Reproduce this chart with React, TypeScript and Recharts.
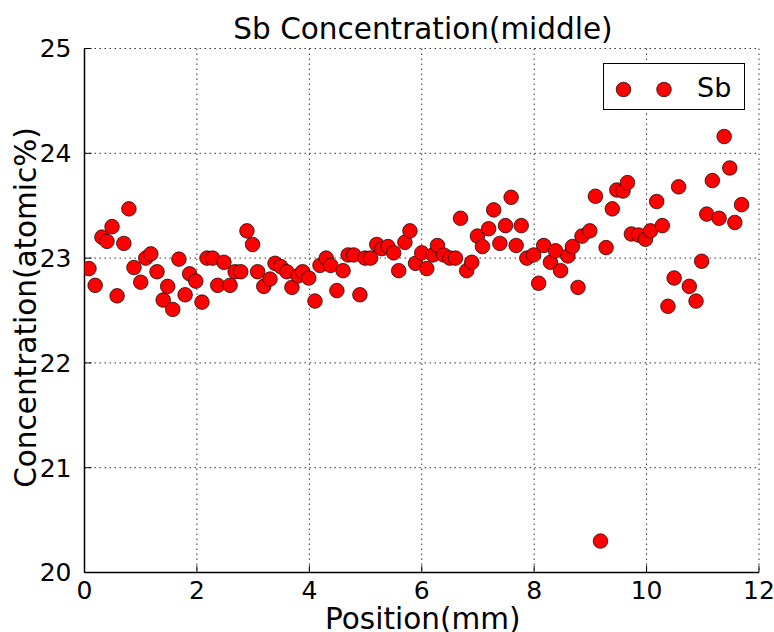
import React from 'react';
import { ScatterChart, Scatter, XAxis, YAxis, CartesianGrid, Legend } from 'recharts';

// positions (mm) and Sb concentration (atomic%)
const positions = [
  0.08, 0.19, 0.31, 0.4, 0.49, 0.58, 0.7, 0.79, 0.88, 1.0,
  1.09, 1.18, 1.29, 1.4, 1.48, 1.57, 1.68, 1.79, 1.87, 1.98,
  2.09, 2.18, 2.28, 2.37, 2.48, 2.59, 2.68, 2.78, 2.89, 2.99,
  3.08, 3.19, 3.3, 3.39, 3.49, 3.6, 3.69, 3.8, 3.88, 3.99,
  4.1, 4.19, 4.3, 4.38, 4.49, 4.6, 4.69, 4.79, 4.9, 4.99,
  5.09, 5.2, 5.29, 5.4, 5.5, 5.59, 5.7, 5.79, 5.89, 6.0,
  6.09, 6.2, 6.28, 6.39, 6.5, 6.6, 6.69, 6.8, 6.89, 6.99,
  7.08, 7.19, 7.28, 7.39, 7.49, 7.59, 7.68, 7.77, 7.87, 7.99,
  8.08, 8.17, 8.29, 8.38, 8.47, 8.6, 8.68, 8.78, 8.85, 8.99,
  9.09, 9.18, 9.28, 9.39, 9.47, 9.58, 9.66, 9.73, 9.86, 9.98,
  10.07, 10.18, 10.28, 10.38, 10.49, 10.57, 10.76, 10.88, 10.98, 11.07,
  11.17, 11.29, 11.38, 11.48, 11.57, 11.69,
];

const concentrations = [
  22.9, 22.74, 23.2, 23.16, 23.3, 22.64, 23.14, 23.47, 22.91, 22.77,
  23.0, 23.04, 22.87, 22.6, 22.73, 22.51, 22.99, 22.65, 22.85, 22.78,
  22.58, 23.0, 23.0, 22.74, 22.96, 22.74, 22.87, 22.87, 23.26, 23.13,
  22.87, 22.73, 22.8, 22.95, 22.92, 22.87, 22.72, 22.83, 22.87, 22.81,
  22.59, 22.93, 23.0, 22.93, 22.69, 22.88, 23.03, 23.03, 22.65, 23.0,
  23.0, 23.13, 23.09, 23.11, 23.05, 22.88, 23.15, 23.26, 22.95, 23.05,
  22.9, 23.03, 23.12, 23.03, 23.0, 23.0, 23.38, 22.88, 22.96, 23.21,
  23.11, 23.28, 23.46, 23.14, 23.31, 23.58, 23.12, 23.31, 23.0, 23.03,
  22.76, 23.12, 22.96, 23.07, 22.88, 23.02, 23.11, 22.72, 23.21, 23.26,
  23.59, 20.3, 23.1, 23.47, 23.65, 23.64, 23.72, 23.23, 23.22, 23.18,
  23.26, 23.54, 23.31, 22.54, 22.81, 23.68, 22.73, 22.59, 22.97, 23.42,
  23.74, 23.38, 24.16, 23.86, 23.34, 23.51,
];

const xTicks = [0, 2, 4, 6, 8, 10, 12];
const yTicks = [20, 21, 22, 23, 24, 25];
const seriesName = 'Sb';
const chartTitle = 'Sb Concentration(middle)';
const xLabel = 'Position(mm)';
const yLabel = 'Concentration(atomic%)';

const data = positions.map((x, i) => ({ x, y: concentrations[i] }));

const FONT = '"DejaVu Sans", sans-serif';
const tickStyle = { fill: '#000', fontSize: 25, fontFamily: FONT };

const Marker = (props: any) => (
  <circle cx={props.cx} cy={props.cy} r={7.3} fill="#ff0000" stroke="#000" strokeWidth={0.7} />
);

const LegendBox = () => (
  <div style={{ boxSizing: 'border-box', width: 142, height: 47, border: '1px solid #000', background: '#fff' }}>
    <svg width={140} height={45} style={{ display: 'block' }}>
      <circle cx={19.5} cy={25.5} r={7.3} fill="#ff0000" stroke="#000" strokeWidth={0.7} />
      <circle cx={60} cy={25.5} r={7.3} fill="#ff0000" stroke="#000" strokeWidth={0.7} />
      <text x={93} y={33} fontSize={27} fontFamily={FONT} fill="#000">{seriesName}</text>
    </svg>
  </div>
);

const YTitle = (p: any) => {
  const vb = p.viewBox;
  const cx = vb.x + 1;
  const cy = vb.y + vb.height / 2 - 3;
  return (
    <text x={cx} y={cy} dy="0.36em" textAnchor="middle" fontSize={29.5} fontFamily={FONT} fill="#000"
      transform={`rotate(-90 ${cx} ${cy})`}>{yLabel}</text>
  );
};

const XTitle = (p: any) => {
  const vb = p.viewBox;
  return (
    <text x={vb.x + vb.width / 2 + 1} y={vb.y + vb.height + 26} textAnchor="middle" fontSize={29.5} fontFamily={FONT} fill="#000">
      {xLabel}
    </text>
  );
};

export default function App() {
  return (
    <div style={{ position: 'relative', width: 774, height: 632, background: '#fff', overflow: 'hidden' }}>
      <style>{'body{margin:0}'}</style>
      <div style={{ position: 'absolute', top: 15, left: 0, width: 846, textAlign: 'center', fontSize: 29.5, lineHeight: '29.5px', fontFamily: FONT, color: '#000', zIndex: 2 }}>
        {chartTitle}
      </div>
      <ScatterChart width={774} height={632} margin={{ top: 48.5, right: 15, bottom: 29.5, left: 24.5 }}>
        <CartesianGrid stroke="#000" strokeDasharray="1.5 3.5" strokeWidth={0.8} />
        <XAxis type="number" dataKey="x" domain={[0, 12]} ticks={xTicks} interval={0} allowDataOverflow
          height={30} tickSize={-7} tickMargin={16} tick={tickStyle}
          axisLine={{ stroke: '#000', strokeWidth: 1.5 }} tickLine={{ stroke: '#000' }}
          label={{ content: <XTitle /> }} />
        <XAxis xAxisId="top" orientation="top" type="number" domain={[0, 12]} ticks={xTicks} interval={0} allowDataOverflow
          height={0} tickSize={-7} tickFormatter={() => ''}
          axisLine={{ stroke: '#000', strokeWidth: 1.5 }} tickLine={{ stroke: '#000' }} />
        <YAxis type="number" dataKey="y" domain={[20, 25]} ticks={yTicks} interval={0} allowDataOverflow
          width={60} tickSize={-7} tickMargin={20} tick={tickStyle}
          axisLine={{ stroke: '#000', strokeWidth: 1.5 }} tickLine={{ stroke: '#000' }}
          label={{ content: <YTitle /> }} />
        <YAxis yAxisId="right" orientation="right" type="number" domain={[20, 25]} ticks={yTicks} interval={0} allowDataOverflow
          width={0} tickSize={-7} tickFormatter={() => ''}
          axisLine={{ stroke: '#000', strokeWidth: 1.5 }} tickLine={{ stroke: '#000' }} />
        <Legend layout="horizontal" verticalAlign="middle" align="center" content={<LegendBox />}
          wrapperStyle={{ position: 'absolute', left: 603, top: 62.5, width: 142, height: 47 }} />
        <Scatter name={seriesName} data={data} fill="#ff0000" shape={<Marker />} isAnimationActive={false} />
      </ScatterChart>
    </div>
  );
}
